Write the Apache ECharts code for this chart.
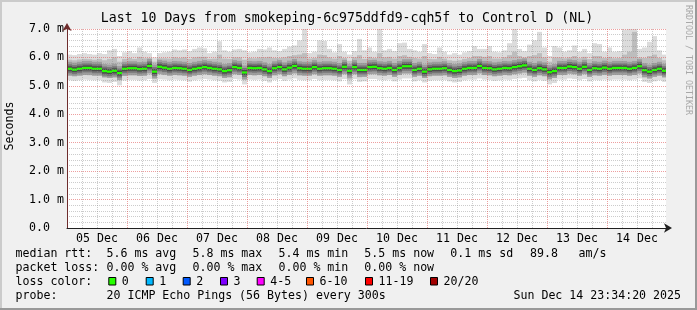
<!DOCTYPE html>
<html><head><meta charset="utf-8">
<script src="https://cdn.jsdelivr.net/npm/echarts@6/dist/echarts.min.js"></script>
<style>html,body{margin:0;padding:0;background:#f0f0f0}#c{width:697px;height:310px}</style>
</head><body><div id="c"></div>
<script>
// ---- data (hours since 05 Dec 00:00, 2-hour columns) ----
const dayLabels = ['05 Dec','06 Dec','07 Dec','08 Dec','09 Dec','10 Dec','11 Dec','12 Dec','13 Dec','14 Dec'];
const yTickLabels = ['0.0  ','1.0 m','2.0 m','3.0 m','4.0 m','5.0 m','6.0 m','7.0 m'];
const median = [
5.60,5.57,5.60,5.63,5.63,5.60,5.60,5.52,5.50,5.53,5.45,5.60,5.62,5.62,5.59,5.60,5.70,5.50,5.67,5.64,5.60,5.63,5.62,5.60,
5.56,5.60,5.63,5.66,5.63,5.60,5.58,5.52,5.55,5.66,5.63,5.47,5.63,5.62,5.63,5.58,5.52,5.62,5.66,5.58,5.64,5.70,5.62,5.60,
5.60,5.66,5.60,5.62,5.62,5.60,5.56,5.67,5.53,5.66,5.56,5.56,5.66,5.67,5.62,5.60,5.63,5.56,5.63,5.69,5.69,5.56,5.60,5.50,
5.58,5.60,5.60,5.62,5.56,5.52,5.54,5.60,5.63,5.63,5.70,5.63,5.62,5.58,5.60,5.63,5.62,5.66,5.69,5.72,5.60,5.56,5.62,5.58,
5.48,5.52,5.63,5.63,5.68,5.66,5.60,5.67,5.56,5.62,5.60,5.64,5.60,5.63,5.63,5.63,5.60,5.63,5.69,5.55,5.50,5.56,5.60,5.53];
const pingMax = [
6.10,6.08,6.12,6.15,6.12,6.10,6.15,6.12,6.25,6.30,6.05,6.18,6.22,6.15,6.35,6.20,6.15,6.00,6.15,6.18,6.20,6.28,6.25,6.28,
6.22,6.30,6.35,6.32,6.15,6.20,6.57,6.25,6.20,6.28,6.30,6.25,6.18,6.20,6.30,6.28,6.35,6.25,6.22,6.30,6.38,6.42,6.60,7.00,
6.15,6.20,6.60,6.58,6.30,6.18,6.47,6.20,6.10,6.22,6.65,6.25,6.35,6.20,7.00,6.25,6.30,6.22,6.50,6.52,6.30,6.25,6.20,6.47,
6.15,6.12,6.35,6.20,6.10,6.15,6.10,6.18,6.22,6.40,6.30,6.30,6.40,6.20,6.18,6.25,6.50,7.00,6.30,6.22,6.45,6.60,6.90,6.35,
6.05,6.40,6.35,6.20,6.25,6.42,6.20,6.30,6.15,6.50,6.47,6.20,6.35,6.20,6.22,6.98,7.00,7.00,6.30,6.35,6.55,6.75,6.25,6.10];
const pingHi = [
5.92,5.90,5.93,5.95,5.94,5.92,5.95,5.90,5.95,6.00,5.85,5.95,5.98,5.95,6.02,5.97,5.98,5.85,5.97,5.97,5.96,6.00,5.98,6.00,
5.95,6.00,6.02,6.02,5.95,5.96,6.10,5.96,5.95,6.00,6.00,5.92,5.98,5.97,6.00,6.00,6.02,5.98,5.98,6.00,6.05,6.08,6.10,6.15,
5.96,5.98,6.10,6.08,6.00,5.96,6.05,5.98,5.88,6.00,6.08,5.95,6.02,5.98,6.15,6.00,6.02,5.96,6.05,6.08,6.02,5.98,5.96,6.05,
5.95,5.94,6.02,5.96,5.90,5.88,5.90,5.95,5.98,6.05,6.05,6.02,6.05,5.96,5.96,6.00,6.08,6.20,6.05,6.00,6.05,6.08,6.15,6.00,
5.85,6.00,6.00,5.97,6.00,6.05,5.97,6.02,5.94,6.05,6.05,5.98,6.02,5.97,5.98,6.10,6.20,6.90,6.00,5.98,6.05,6.10,5.98,5.90];
const pingLo = [
5.36,5.34,5.36,5.38,5.37,5.36,5.36,5.30,5.28,5.30,5.20,5.35,5.37,5.37,5.35,5.36,5.40,5.26,5.40,5.38,5.36,5.38,5.37,5.36,
5.32,5.36,5.38,5.40,5.38,5.36,5.34,5.28,5.30,5.40,5.38,5.22,5.38,5.37,5.38,5.34,5.28,5.37,5.40,5.34,5.38,5.42,5.37,5.36,
5.36,5.40,5.36,5.37,5.37,5.36,5.32,5.40,5.22,5.40,5.30,5.32,5.40,5.40,5.37,5.36,5.38,5.32,5.38,5.42,5.42,5.32,5.36,5.28,
5.34,5.36,5.36,5.37,5.32,5.28,5.30,5.36,5.38,5.38,5.42,5.38,5.37,5.34,5.36,5.38,5.37,5.40,5.42,5.44,5.36,5.32,5.37,5.34,
5.22,5.28,5.38,5.38,5.42,5.40,5.36,5.40,5.32,5.37,5.36,5.38,5.36,5.38,5.38,5.38,5.36,5.38,5.42,5.30,5.26,5.32,5.36,5.30];
const pingMin = [
5.20,5.18,5.20,5.22,5.21,5.20,5.20,5.12,5.10,5.14,5.02,5.19,5.21,5.21,5.19,5.20,5.24,5.10,5.23,5.22,5.20,5.22,5.21,5.20,
5.15,5.20,5.22,5.24,5.22,5.20,5.18,5.12,5.14,5.24,5.22,5.05,5.22,5.21,5.22,5.18,5.12,5.21,5.24,5.18,5.22,5.26,5.21,5.20,
5.20,5.24,5.20,5.21,5.21,5.20,5.16,5.24,5.05,5.24,5.14,5.16,5.24,5.24,5.21,5.20,5.22,5.16,5.22,5.26,5.26,5.16,5.20,5.12,
5.18,5.20,5.20,5.21,5.16,5.12,5.14,5.20,5.22,5.22,5.26,5.22,5.21,5.18,5.20,5.22,5.21,5.24,5.26,5.28,5.20,5.16,5.21,5.18,
5.05,5.10,5.22,5.22,5.26,5.24,5.20,5.24,5.16,5.21,5.20,5.22,5.20,5.22,5.22,5.22,5.20,5.22,5.26,5.14,5.10,5.16,5.20,5.14];
const lossLabels = ['0','1','2','3','4-5','6-10','11-19','20/20'];
const lossColors = ['#26ff00','#00b8ff','#0059ff','#7e00ff','#ff00fe','#ff5500','#ff0000','#a10000'];
const rttStats = ['5.6 ms avg','5.8 ms max','5.4 ms min','5.5 ms now','0.1 ms sd','89.8','am/s'];
const lossStats = ['0.00 % avg','0.00 % max','0.00 % min','0.00 % now'];
const titleText = 'Last 10 Days from smokeping-6c975ddfd9-cqh5f to Control D (NL)';
const probeText = '20 ICMP Echo Pings (56 Bytes) every 300s';
const dateText = 'Sun Dec 14 23:34:20 2025';

// ---- layout / style ----
const STEP = 2, END_H = 239.6;
const FONT = '"DejaVu Sans Mono", monospace';
const FS = 11.6;
const rows = median.map((m, i) => [i * STEP, pingMin[i], pingMax[i], pingLo[i], pingHi[i], m]);

function renderSmoke(params, api) {
  const t0 = api.value(0), t1 = Math.min(t0 + STEP, END_H);
  const xa = Math.round(api.coord([t0, 0])[0]), xb = Math.round(api.coord([t1, 0])[0]);
  const w = xb - xa;
  const Y = v => api.coord([t0, v])[1];
  const yMin = Y(api.value(1)), yMax = Y(api.value(2)), yLo = Y(api.value(3)), yHi = Y(api.value(4)), yMed = Y(api.value(5));
  const rect = (top, bot, fill) => ({type: 'rect', shape: {x: xa, y: top, width: w, height: Math.max(0, bot - top)}, style: {fill: fill}});
  const band = (h, fill) => rect(Math.max(yHi, yMed - h), Math.min(yLo, yMed + h), fill);
  return {type: 'group', children: [
    rect(yMax, yMin, '#dcdcdc'),
    rect(yHi, yLo, '#bdbdbd'),
    band(7, '#9d9d9d'),
    band(4.5, '#767676'),
    band(2.5, '#4a4a4a'),
    rect(yMed - 1.1, yMed + 1.1, lossColors[0])
  ]};
}

const txt = (x, y, text, extra) => Object.assign({type: 'text', x: x, y: y, z: 10,
  style: Object.assign({text: text, fill: '#000', font: FS + 'px ' + FONT, textAlign: 'left', textVerticalAlign: 'middle', verticalAlign: 'middle'}, (extra || {}))});

const graphics = [
  {type: 'rect', shape: {x: 0, y: 0, width: 697, height: 2}, style: {fill: '#cbcbcb'}},
  {type: 'rect', shape: {x: 0, y: 0, width: 2, height: 310}, style: {fill: '#cbcbcb'}},
  {type: 'rect', shape: {x: 0, y: 308, width: 697, height: 2}, style: {fill: '#999999'}},
  {type: 'rect', shape: {x: 695, y: 0, width: 2, height: 310}, style: {fill: '#999999'}},
  txt(347, 19, titleText, {font: '13.2px ' + FONT, textAlign: 'center'}),
  Object.assign(txt(10, 126, 'Seconds', {textAlign: 'center'}), {rotation: Math.PI / 2}),
  Object.assign(txt(688, 60, 'RRDTOOL / TOBI OETIKER', {textAlign: 'center', fill: '#a8a8a8', font: '8.3px ' + FONT}), {rotation: -Math.PI / 2}),
  txt(15.5, 254, 'median rtt:'),
  txt(15.5, 268, 'packet loss:'),
  txt(15.5, 281.5, 'loss color:'),
  txt(15.5, 296, 'probe:'),
  txt(106.5, 296, probeText),
  txt(681, 296, dateText, {textAlign: 'right'})
];
const rttX = [106.5, 192.5, 278.5, 364.3, 450.3, 530, 578.5];
rttStats.forEach((s, i) => graphics.push(txt(rttX[i], 254, s)));
lossStats.forEach((s, i) => graphics.push(txt(rttX[i], 268, s)));
const boxX = [108.3, 145.7, 182.7, 220, 256.7, 306, 365, 430];
lossLabels.forEach((s, i) => {
  graphics.push({type: 'rect', z: 10, shape: {x: boxX[i] + 0.5, y: 277.5, width: 7, height: 7.5}, style: {fill: lossColors[i], stroke: '#000', lineWidth: 1}});
  graphics.push(txt(boxX[i] + 13.5, 281.5, s));
});

const chart = echarts.init(document.getElementById('c'), null, {renderer: 'canvas'});
chart.setOption({
  animation: false,
  backgroundColor: '#f0f0f0',
  grid: {left: 67, top: 29, width: 599, height: 199, show: true, backgroundColor: '#ffffff', borderWidth: 0},
  xAxis: [
    {type: 'value', min: 0, max: END_H, interval: 24, z: 3,
     axisLine: {show: true, onZero: false, lineStyle: {color: '#202020', width: 1}, symbol: ['none', 'arrow'], symbolSize: [7, 8], symbolOffset: [0, 6]},
     axisTick: {show: false}, axisLabel: {show: false},
     splitLine: {show: true, showMinLine: false, showMaxLine: false, lineStyle: {color: 'rgba(222,80,80,0.55)', type: [1, 1], width: 1}},
     minorTick: {show: false, splitNumber: 4},
     minorSplitLine: {show: true, lineStyle: {color: 'rgba(143,143,143,0.45)', type: [1, 1], width: 1}}},
    {type: 'value', min: 0, max: END_H, interval: 12, position: 'bottom', z: 3,
     axisLine: {show: false}, axisTick: {show: false}, splitLine: {show: false},
     axisLabel: {show: true, margin: 5, color: '#000', fontFamily: FONT, fontSize: FS,
       showMinLabel: false, showMaxLabel: false,
       formatter: v => (Math.round(v) % 24 === 12 ? dayLabels[(Math.round(v) - 12) / 24] : '')}}
  ],
  yAxis: {type: 'value', min: 0, max: 7, interval: 1, z: 3,
    axisLine: {show: true, lineStyle: {color: '#6e2c2c', width: 1}, symbol: ['none', 'arrow'], symbolSize: [7, 8], symbolOffset: [0, 6]},
    axisTick: {show: false},
    axisLabel: {margin: 3, color: '#000', fontFamily: FONT, fontSize: FS, formatter: v => yTickLabels[Math.round(v)]},
    splitLine: {show: true, showMinLine: false, lineStyle: {color: 'rgba(222,80,80,0.55)', type: [1, 1], width: 1}},
    minorTick: {show: false, splitNumber: 5},
    minorSplitLine: {show: true, lineStyle: {color: 'rgba(143,143,143,0.45)', type: [1, 1], width: 1}}},
  series: [{type: 'custom', xAxisIndex: 0, z: 1, clip: true, renderItem: renderSmoke, data: rows,
    encode: {x: 0, y: [1, 2]}}],
  graphic: graphics
});
</script></body></html>
